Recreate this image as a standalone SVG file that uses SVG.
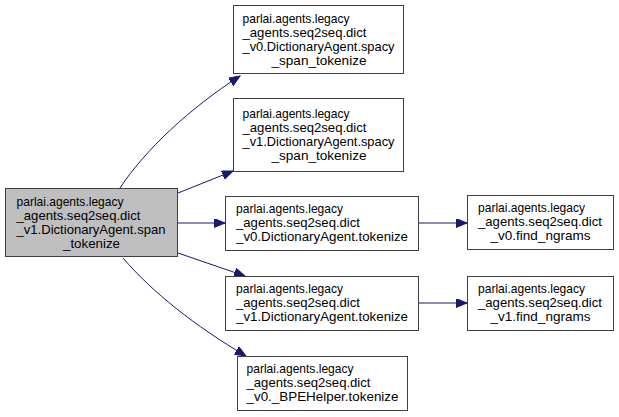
<svg xmlns="http://www.w3.org/2000/svg" width="619" height="417" viewBox="0 0 619 417">
  <style>
    .box { fill: #ffffff; stroke: #404040; stroke-width: 1; }
    .cur { fill: #bfbfbf; stroke: #404040; stroke-width: 1; }
    text { font-family: "Liberation Sans", Arial, Helvetica, sans-serif; font-size: 13px; fill: #000000; }
    .c { text-anchor: middle; }
    .edge { fill: none; stroke: #191970; stroke-width: 1; marker-end: url(#arrow); }
  </style>
  <defs>
    <marker id="arrow" markerUnits="userSpaceOnUse" markerWidth="12" markerHeight="10" refX="11" refY="4.5" orient="auto">
      <path d="M0,0 L11,4.5 L0,9 Z" fill="#191970" stroke="#191970" stroke-width="1"/>
    </marker>
  </defs>
  <rect width="619" height="417" fill="#ffffff"/>

  <g id="connectors">
    <path class="edge" d="M120,188 C145,150 190,108 240,76"/>
    <path class="edge" d="M178,193 L233,171"/>
    <path class="edge" d="M178,223 L225,223"/>
    <path class="edge" d="M178,253 L245,276"/>
    <path class="edge" d="M123,258 C152,292 195,326 246,356"/>
    <path class="edge" d="M419,223 L467,223"/>
    <path class="edge" d="M419,303 L467,303"/>
  </g>

  <g id="span_tokenize_v1">
    <rect class="cur" x="5.5" y="188.5" width="172" height="68"/>
    <text x="16.5" y="206" textLength="107" lengthAdjust="spacingAndGlyphs">parlai.agents.legacy</text>
    <text x="16.5" y="220" textLength="124" lengthAdjust="spacingAndGlyphs">_agents.seq2seq.dict</text>
    <text x="16.5" y="234" textLength="149" lengthAdjust="spacingAndGlyphs">_v1.DictionaryAgent.span</text>
    <text class="c" x="91.5" y="248" textLength="57" lengthAdjust="spacingAndGlyphs">_tokenize</text>
  </g>

  <g id="spacy_span_tokenize_v0">
    <rect class="box" x="233.5" y="5.5" width="170" height="68"/>
    <text x="242.5" y="23" textLength="107" lengthAdjust="spacingAndGlyphs">parlai.agents.legacy</text>
    <text x="242.5" y="37" textLength="124" lengthAdjust="spacingAndGlyphs">_agents.seq2seq.dict</text>
    <text x="242.5" y="51" textLength="152" lengthAdjust="spacingAndGlyphs">_v0.DictionaryAgent.spacy</text>
    <text class="c" x="319" y="65" textLength="95" lengthAdjust="spacingAndGlyphs">_span_tokenize</text>
  </g>

  <g id="spacy_span_tokenize_v1">
    <rect class="box" x="233.5" y="98.5" width="170" height="73"/>
    <text x="242.5" y="118" textLength="107" lengthAdjust="spacingAndGlyphs">parlai.agents.legacy</text>
    <text x="242.5" y="132" textLength="124" lengthAdjust="spacingAndGlyphs">_agents.seq2seq.dict</text>
    <text x="242.5" y="146" textLength="152" lengthAdjust="spacingAndGlyphs">_v1.DictionaryAgent.spacy</text>
    <text class="c" x="319" y="160" textLength="95" lengthAdjust="spacingAndGlyphs">_span_tokenize</text>
  </g>

  <g id="tokenize_v0">
    <rect class="box" x="225.5" y="196.5" width="193" height="54"/>
    <text x="236" y="212.5" textLength="107" lengthAdjust="spacingAndGlyphs">parlai.agents.legacy</text>
    <text x="236" y="226.5" textLength="124" lengthAdjust="spacingAndGlyphs">_agents.seq2seq.dict</text>
    <text class="c" x="322" y="240.5" textLength="172" lengthAdjust="spacingAndGlyphs">_v0.DictionaryAgent.tokenize</text>
  </g>

  <g id="tokenize_v1">
    <rect class="box" x="225.5" y="276.5" width="193" height="54"/>
    <text x="236" y="293" textLength="107" lengthAdjust="spacingAndGlyphs">parlai.agents.legacy</text>
    <text x="236" y="307" textLength="124" lengthAdjust="spacingAndGlyphs">_agents.seq2seq.dict</text>
    <text class="c" x="322" y="321" textLength="172" lengthAdjust="spacingAndGlyphs">_v1.DictionaryAgent.tokenize</text>
  </g>

  <g id="bpehelper_tokenize_v0">
    <rect class="box" x="237.5" y="356.5" width="170" height="54"/>
    <text x="246.5" y="373" textLength="107" lengthAdjust="spacingAndGlyphs">parlai.agents.legacy</text>
    <text x="246.5" y="387" textLength="124" lengthAdjust="spacingAndGlyphs">_agents.seq2seq.dict</text>
    <text class="c" x="322.5" y="401" textLength="152" lengthAdjust="spacingAndGlyphs">_v0._BPEHelper.tokenize</text>
  </g>

  <g id="find_ngrams_v0">
    <rect class="box" x="467.5" y="195.5" width="146" height="54"/>
    <text x="478" y="212" textLength="107" lengthAdjust="spacingAndGlyphs">parlai.agents.legacy</text>
    <text x="478" y="226" textLength="124" lengthAdjust="spacingAndGlyphs">_agents.seq2seq.dict</text>
    <text class="c" x="540.5" y="240" textLength="100" lengthAdjust="spacingAndGlyphs">_v0.find_ngrams</text>
  </g>

  <g id="find_ngrams_v1">
    <rect class="box" x="467.5" y="276.5" width="146" height="54"/>
    <text x="478" y="293" textLength="107" lengthAdjust="spacingAndGlyphs">parlai.agents.legacy</text>
    <text x="478" y="307" textLength="124" lengthAdjust="spacingAndGlyphs">_agents.seq2seq.dict</text>
    <text class="c" x="540.5" y="321" textLength="100" lengthAdjust="spacingAndGlyphs">_v1.find_ngrams</text>
  </g>
</svg>
